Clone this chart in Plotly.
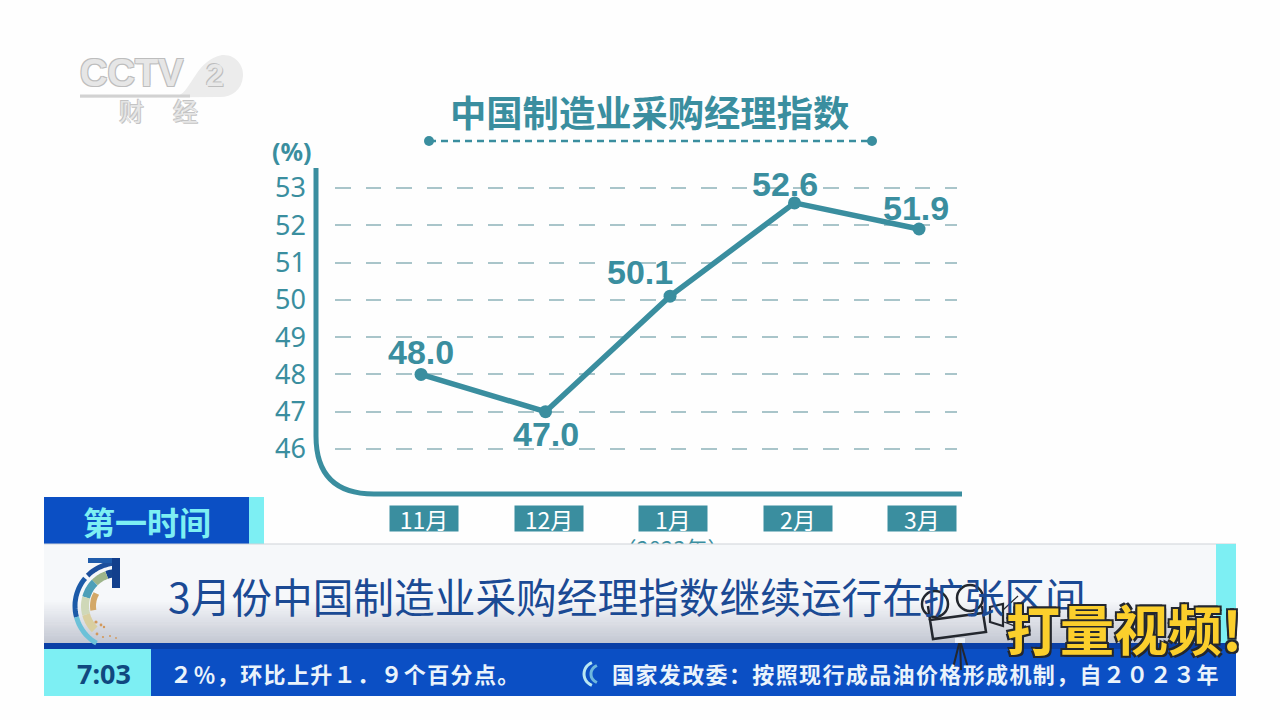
import math
import plotly.graph_objects as go

# ---- data ----
months = ["11月", "12月", "1月", "2月", "3月"]
pmi = [48.0, 47.0, 50.1, 52.6, 51.9]
y_ticks = [46, 47, 48, 49, 50, 51, 52, 53]
chart_title = "中国制造业采购经理指数"
unit_label = "(%)"
year_label = "（2023年）"
program_label = "第一时间"
headline = "3月份中国制造业采购经理指数继续运行在扩张区间"
clock_label = "7:03"
ticker_left = "２％，环比上升１．９个百分点。"
ticker_right = "国家发改委：按照现行成品油价格形成机制，自２０２３年"

TEAL = "#3a8e9f"
GRID = "#a9c5ca"
CJK = "Noto Sans CJK SC"
W, H = 1280, 720

shapes, notes = [], []


def rect(x0, y0, x1, y1, color, layer="above"):
    shapes.append(dict(type="rect", xref="x2", yref="y2", x0=x0, y0=y0, x1=x1, y1=y1,
                       fillcolor=color, line_width=0, layer=layer))


def path(d, color=None, width=0, fill=None, layer="above", dash=None):
    line = dict(color=color or "rgba(0,0,0,0)", width=width)
    if dash:
        line["dash"] = dash
    shapes.append(dict(type="path", xref="x2", yref="y2", path=d, line=line,
                       fillcolor=fill or "rgba(0,0,0,0)", layer=layer))


def seg(x0, y0, x1, y1, color, width=2, layer="above", dash=None):
    line = dict(color=color, width=width)
    if dash:
        line["dash"] = dash
    shapes.append(dict(type="line", xref="x2", yref="y2", x0=x0, y0=y0, x1=x1, y1=y1,
                       line=line, layer=layer))


def circle(cx, cy, r, fill=None, color=None, width=0, layer="above"):
    shapes.append(dict(type="circle", xref="x2", yref="y2", x0=cx - r, y0=cy - r, x1=cx + r, y1=cy + r,
                       fillcolor=fill or "rgba(0,0,0,0)",
                       line=dict(color=color or "rgba(0,0,0,0)", width=width), layer=layer))


def label(x, y, text, size, color, family=CJK, weight="normal", anchor="center", shadow=None):
    font = dict(size=size, color=color, family=family, weight=weight)
    if shadow:
        font["shadow"] = shadow
    notes.append(dict(xref="x2", yref="y2", x=x, y=y, text=text, showarrow=False, font=font,
                      xanchor=anchor, yanchor="middle"))


def arc(cx, cy, r, a0, a1, color, width):
    pts = []
    n = 14
    for i in range(n + 1):
        a = math.radians(a0 + (a1 - a0) * i / n)
        pts.append((cx + r * math.cos(a), cy - r * math.sin(a)))
    d = "M" + " L".join(f"{x:.1f},{y:.1f}" for x, y in pts)
    path(d, color=color, width=width)


# ---- CCTV logo ----
path("M80,96 L178,96 C192,90 196,60 222,55 C236,54 244,66 243,76 C242,90 232,97 220,97 L80,98 Z",
     fill="#ececec", layer="below")
seg(80, 96, 190, 96, "#d2d2d2", 3, layer="below")
label(132, 73, "CCTV", 38, "#e6e6e6", family="Liberation Sans", weight="bold",
      shadow="1px 1px 0 #bdbdbd, -1px -1px 0 #bdbdbd, 1px -1px 0 #bdbdbd, -1px 1px 0 #bdbdbd")
label(215, 75, "2", 32, "#e8e8e8", family="Liberation Sans", weight="bold",
      shadow="1px 1px 0 #bdbdbd, -1px -1px 0 #bdbdbd")
label(131, 110, "财", 25, "#e6e6e6", shadow="1px 1px 0 #c4c4c4, -1px -1px 0 #c4c4c4")
label(185, 110, "经", 25, "#e6e6e6", shadow="1px 1px 0 #c4c4c4, -1px -1px 0 #c4c4c4")

# ---- chart decorations ----
label(649, 111, chart_title, 36.3, TEAL, weight="bold")
seg(429, 141, 872, 141, TEAL, 2.5, dash="7px,5px")
circle(429, 141, 5, fill=TEAL)
circle(872, 141, 5, fill=TEAL)
label(292, 151, unit_label, 25, TEAL, family="Noto Sans", weight="bold")
path("M316,168 L316,436 Q316,494 374,494 L962,494", color=TEAL, width=5, layer="below")

# ---- lower-third ----
rect(44, 497, 249, 545, "#0b4fc4")
rect(249, 497, 264, 545, "#7deff3")
label(147, 521, program_label, 32, "#7deff3", weight="bold")
rect(44, 544, 1236, 643, "#f6f8fa")
for i in range(20):
    t = i / 19
    g = (int(245 - 50 * t), int(247 - 48 * t), int(250 - 40 * t))
    rect(44, 600 + i * 2.2, 1236, 600 + (i + 1) * 2.2 + 0.5, f"rgb({g[0]},{g[1]},{g[2]})")
shapes.append(dict(type="line", xref="x2", yref="y2", x0=44, x1=1236, y0=544, y1=544,
                   line=dict(color="#cfd3d8", width=1), layer="above"))
rect(1216, 544, 1236, 643, "#7deff3")
rect(44, 643, 1236, 649, "#0a3fa6")
rect(44, 649, 151, 696, "#7deff3")
rect(151, 649, 1236, 696, "#0b4fc4")
label(104, 673, clock_label, 27, "#10487f", family="Noto Sans", weight="bold")
label(627, 595, headline, 40.7, "#1b4a94", anchor="center")
spaced_left = "\u200a".join(ticker_left)
spaced_right = "\u200a".join(ticker_right)
label(344, 673, spaced_left, 22, "#eaf3fb", weight="bold")
label(915, 673, spaced_right, 22, "#eaf3fb", weight="bold")
arc(596, 674, 12, 110, 250, "#b9e6f2", 3)
arc(600, 674, 9, 110, 250, "#6fb7dd", 3)

# swirl icon
cx, cy = 118, 606
arc(cx, cy, 43, 92, 135, "#1c4f9c", 5)
arc(cx, cy, 43, 140, 195, "#1c5aa8", 5)
arc(cx, cy, 43, 195, 240, "#6cc1d8", 5)
arc(cx, cy, 33, 90, 110, "#15458f", 8)
arc(cx, cy, 33, 110, 135, "#9db58a", 8)
arc(cx, cy, 33, 135, 165, "#4d9fb8", 8)
arc(cx, cy, 33, 165, 195, "#cfd8b8", 8)
arc(cx, cy, 33, 195, 225, "#d9cfa0", 8)
arc(cx, cy, 25, 150, 190, "#d3a868", 6)
rect(88, 558, 120, 563, "#1f5cab")
rect(112, 558, 120, 588, "#123f8c")
for px, py, pr in [(96, 622, 1.6), (101, 625, 1.4), (104, 627, 1.2), (97, 634, 1.4), (103, 637, 1.1), (110, 636, 1.0), (116, 638, 0.9)]:
    circle(px, py, pr, fill="#d3995c")

# camera doodle
DOOD = "#23272e"
path("M930,620 L983,613 L986,632 L933,639 Z", color=DOOD, width=2.5)
seg(930, 620, 928, 606, DOOD, 2.5)
seg(983, 613, 982, 606, DOOD, 2.5)
circle(935, 604, 13, color=DOOD, width=2.5)
circle(970, 598, 13, color=DOOD, width=2.5)
path("M990,607 L1003,604 L1003,626 L990,622 Z", color=DOOD, width=2.2)
seg(1003, 610, 1018, 596, DOOD, 1.2)
seg(1004, 622, 1020, 628, DOOD, 1.2)
seg(960, 640, 953, 668, DOOD, 2)
seg(960, 640, 961, 670, DOOD, 2)
seg(960, 640, 968, 668, DOOD, 2)
rect(955, 638, 965, 643, "#eef1f5")

label(1124, 627, "打量视频!", 54, "#fbcf2c", weight="bold",
      shadow="2px 2px 0 #23272e, -2px -2px 0 #23272e, 2px -2px 0 #23272e, -2px 2px 0 #23272e")

# ---- chart ----
fig = go.Figure()
fig.add_trace(go.Scatter(x=months, y=pmi, mode="lines+markers", xaxis="x", yaxis="y",
                         line=dict(color=TEAL, width=5.5),
                         marker=dict(color=TEAL, size=13), hoverinfo="skip", showlegend=False))
# year label sits under the headline bar, which clips it
fig.add_trace(go.Scatter(x=[672], y=[551], text=[year_label], mode="text", xaxis="x2", yaxis="y2",
                         textposition="middle center",
                         textfont=dict(size=22, color=TEAL, family=CJK),
                         hoverinfo="skip", showlegend=False))

offsets = [(0, 22), (0, -22), (-30, 24), (-10, 19), (-3, 21)]
for m, v, (dx, dy) in zip(months, pmi, offsets):
    notes.append(dict(xref="x", yref="y", x=m, y=v, text=f"{v:.1f}", showarrow=False,
                      xshift=dx, yshift=dy,
                      font=dict(size=34, color=TEAL, family="Liberation Sans", weight="bold"),
                      xanchor="center", yanchor="middle"))
for m in months:
    notes.append(dict(xref="x", yref="paper", x=m, y=1 - 518.5 / H, text=m, showarrow=False,
                      xshift=3, width=68, height=25, bgcolor=TEAL, borderpad=0,
                      font=dict(size=23, color="#ffffff", family=CJK),
                      xanchor="center", yanchor="middle", align="center"))

fig.update_layout(
    width=W, height=H, autosize=False, margin=dict(l=0, r=0, t=0, b=0, autoexpand=False),
    paper_bgcolor="#fefefe", plot_bgcolor="rgba(0,0,0,0)", showlegend=False,
    xaxis=dict(domain=[335 / W, 957 / W], range=[-0.691, 4.305], type="category",
               categoryorder="array", categoryarray=months, showgrid=False, showline=False,
               zeroline=False, showticklabels=False, ticks="", anchor="y"),
    yaxis=dict(domain=[1 - 490 / H, 1 - 175 / H], range=[44.90, 53.349], tickvals=y_ticks,
               showgrid=True, gridcolor=GRID, gridwidth=2, griddash="15.5px,15px",
               zeroline=False, showline=False, ticks="", ticklabelstandoff=28,
               tickfont=dict(size=27, color=TEAL, family="Noto Sans"), anchor="x"),
    xaxis2=dict(domain=[0, 1], range=[0, W], visible=False, anchor="y2"),
    yaxis2=dict(domain=[0, 1], range=[H, 0], visible=False, anchor="x2"),
    shapes=shapes, annotations=notes,
)
fig.write_html("out.html", post_script="document.body.style.margin='0';",
               config=dict(displayModeBar=False))
